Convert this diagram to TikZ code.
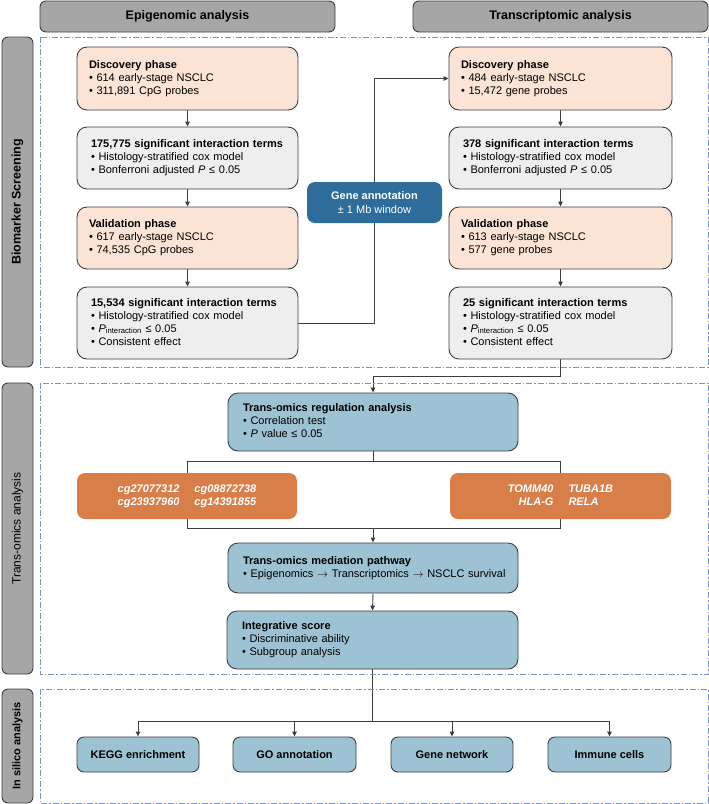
\documentclass[tikz,border=0pt]{standalone}
\usepackage{fontspec}
\setmainfont{Liberation Sans}
\usetikzlibrary{arrows.meta,calc,backgrounds}
\definecolor{peach}{RGB}{251,228,213}
\definecolor{lgray}{RGB}{238,238,238}
\definecolor{lblue}{RGB}{157,194,212}
\definecolor{dblue}{RGB}{46,109,155}
\definecolor{orng}{RGB}{215,126,73}
\definecolor{tabgray}{RGB}{166,166,166}
\definecolor{edge}{RGB}{62,62,62}
\definecolor{dashc}{RGB}{124,146,196}
\newcommand\txtlines[1]{\begin{tabular}{@{}l@{}}#1\end{tabular}}
\newcommand\longarr{$\rightarrow$}
\begin{document}
\begin{tikzpicture}[x=1pt,y=-1pt,
  box/.style={draw=edge, line width=0.9pt, rounded corners=10pt, align=left, inner ysep=0pt,
    font=\fontsize{11}{13}\selectfont},
  peachbox/.style={box, fill=peach, inner xsep=12pt},
  graybox/.style={box, fill=lgray, inner xsep=14pt},
  bluebox/.style={box, fill=lblue, inner xsep=15pt},
  annobox/.style={fill=dblue, rounded corners=8pt, text=white, align=center, inner sep=0pt,
    font=\fontsize{11}{14}\selectfont},
  orngbox/.style={fill=orng, rounded corners=8pt, text=white, inner sep=0pt,
    font=\bfseries\itshape\fontsize{11}{13}\selectfont},
  leafbox/.style={draw=edge, line width=0.9pt, rounded corners=7pt, fill=lblue, inner sep=0pt,
    minimum height=35pt, font=\bfseries\fontsize{11}{13}\selectfont},
  header/.style={draw=edge, line width=0.9pt, fill=tabgray, rounded corners=6pt, inner sep=0pt,
    minimum width=295pt, minimum height=31pt, font=\bfseries\fontsize{12.5}{15}\selectfont},
  tab/.style={draw=edge, line width=0.9pt, fill=tabgray, rounded corners=6pt, inner sep=0pt,
    rotate=90, minimum height=31pt},
  dashbox/.style={draw=dashc, line width=0.9pt, dash pattern=on 6pt off 2pt on 1.5pt off 2pt},
  conn/.style={draw=edge, line width=0.9pt},
  arr/.style={conn, -{Triangle[length=5pt,width=4.5pt]}}
]
\useasboundingbox (0,0) rectangle (709,804);

% headers
\node[header] (h1) at (187.5,16.5) {Epigenomic analysis};
\node[header] (h2) at (560.5,16.5) {Transcriptomic analysis};

% section frames
\draw[dashbox] (40,37) rectangle (708,367);
\draw[dashbox] (40,383) rectangle (708,674);
\draw[dashbox] (40,689) rectangle (708,803);

% side tabs
\node[tab, minimum width=330pt, font=\bfseries\fontsize{12.5}{15}\selectfont] (t1) at (17.5,202) {Biomarker Screening};
\node[tab, minimum width=291pt, font=\fontsize{12}{14}\selectfont] (t2) at (17.5,528.5) {Trans-omics analysis};
\node[tab, minimum width=114pt, font=\bfseries\fontsize{11}{13}\selectfont] (t3) at (17.5,746) {In silico analysis};

% epigenomic column
\node[peachbox, text width=197pt, minimum height=63pt] (ld) at (187.5,78.5)
  {\txtlines{\textbf{Discovery phase}\\• 614 early-stage NSCLC\\• 311,891 CpG probes}};
\node[graybox, text width=193pt, minimum height=62pt] (ls1) at (187.5,158)
  {\txtlines{\textbf{175,775 significant interaction terms}\\• Histology-stratified cox model\\• Bonferroni adjusted \textit{P} ≤ 0.05}};
\node[peachbox, text width=197pt, minimum height=62pt] (lv) at (187.5,238)
  {\txtlines{\textbf{Validation phase}\\• 617 early-stage NSCLC\\• 74,535 CpG probes}};
\node[graybox, text width=193pt, minimum height=72pt] (ls2) at (187.5,323)
  {\txtlines{\textbf{15,534 significant interaction terms}\\• Histology-stratified cox model\\• \textit{P}\textsubscript{interaction} ≤ 0.05\\• Consistent effect}};

% transcriptomic column
\node[peachbox, text width=199pt, minimum height=63pt] (rd) at (560.5,78.5)
  {\txtlines{\textbf{Discovery phase}\\• 484 early-stage NSCLC\\• 15,472 gene probes}};
\node[graybox, text width=195pt, minimum height=62pt] (rs1) at (560.5,158)
  {\txtlines{\textbf{378 significant interaction terms}\\• Histology-stratified cox model\\• Bonferroni adjusted \textit{P} ≤ 0.05}};
\node[peachbox, text width=199pt, minimum height=62pt] (rv) at (560.5,238)
  {\txtlines{\textbf{Validation phase}\\• 613 early-stage NSCLC\\• 577 gene probes}};
\node[graybox, text width=195pt, minimum height=72pt] (rs2) at (560.5,323)
  {\txtlines{\textbf{25 significant interaction terms}\\• Histology-stratified cox model\\• \textit{P}\textsubscript{interaction} ≤ 0.05\\• Consistent effect}};

% gene annotation
\node[annobox, minimum width=135pt, minimum height=41pt] (ga) at (374.5,202.5)
  {\textbf{Gene annotation}\\± 1 Mb window};

% trans-omics
\node[bluebox, text width=260pt, minimum height=58pt] (reg) at (373,422)
  {\txtlines{\textbf{Trans-omics regulation analysis}\\• Correlation test\\• \textit{P} value ≤ 0.05}};
\node[orngbox, minimum width=220pt, minimum height=46pt] (ol) at (187,496)
  {\begin{tabular}{@{}r@{\hspace{15pt}}l@{}}cg27077312 & cg08872738\\cg23937960 & cg14391855\end{tabular}};
\node[orngbox, minimum width=221pt, minimum height=46pt] (or) at (560.5,496)
  {\begin{tabular}{@{}r@{\hspace{15pt}}l@{}}TOMM40 & TUBA1B\\HLA-G & RELA\end{tabular}};
\node[bluebox, text width=260pt, minimum height=50pt] (med) at (373,568)
  {\txtlines{\textbf{Trans-omics mediation pathway}\\• Epigenomics \longarr{} Transcriptomics \longarr{} NSCLC survival}};
\node[bluebox, text width=261pt, minimum height=58pt] (int) at (372.5,640)
  {\txtlines{\textbf{Integrative score}\\• Discriminative ability\\• Subgroup analysis}};

% in silico
\node[leafbox, minimum width=122pt] (kegg) at (138,754.5) {KEGG enrichment};
\node[leafbox, minimum width=123pt] (go) at (294.5,754.5) {GO annotation};
\node[leafbox, minimum width=122pt] (gn) at (452,754.5) {Gene network};
\node[leafbox, minimum width=123pt] (ic) at (609.5,754.5) {Immune cells};

% connectors
\begin{scope}[on background layer]
  \draw[arr] (ld.south) -- (ls1.north);
  \draw[arr] (ls1.south) -- (lv.north);
  \draw[arr] (lv.south) -- (ls2.north);
  \draw[arr] (rd.south) -- (rs1.north);
  \draw[arr] (rs1.south) -- (rv.north);
  \draw[arr] (rv.south) -- (rs2.north);
  \draw[arr] (ls2.east) -| (ga.center) |- (rd.west);
  \draw[arr] (rs2.south) -- ++(0,17) -| (reg.north);
  \draw[conn] (reg.south) -- ++(0,10) coordinate (j1);
  \draw[conn] (ol.north) |- (j1) -| (or.north);
  \coordinate (j2) at ($(med.north)+(0,-14)$);
  \draw[conn] (ol.south) |- (j2) -| (or.south);
  \draw[arr] (j2) -- (med.north);
  \draw[arr] (med.south) -- (int.north);
  \draw[conn] (int.south) -- ++(0,52) coordinate (j3);
  \draw[conn] (kegg.north |- j3) -- (ic.north |- j3);
  \draw[arr] (kegg.north |- j3) -- (kegg.north);
  \draw[arr] (go.north |- j3) -- (go.north);
  \draw[arr] (gn.north |- j3) -- (gn.north);
  \draw[arr] (ic.north |- j3) -- (ic.north);
\end{scope}
\end{tikzpicture}
\end{document}
